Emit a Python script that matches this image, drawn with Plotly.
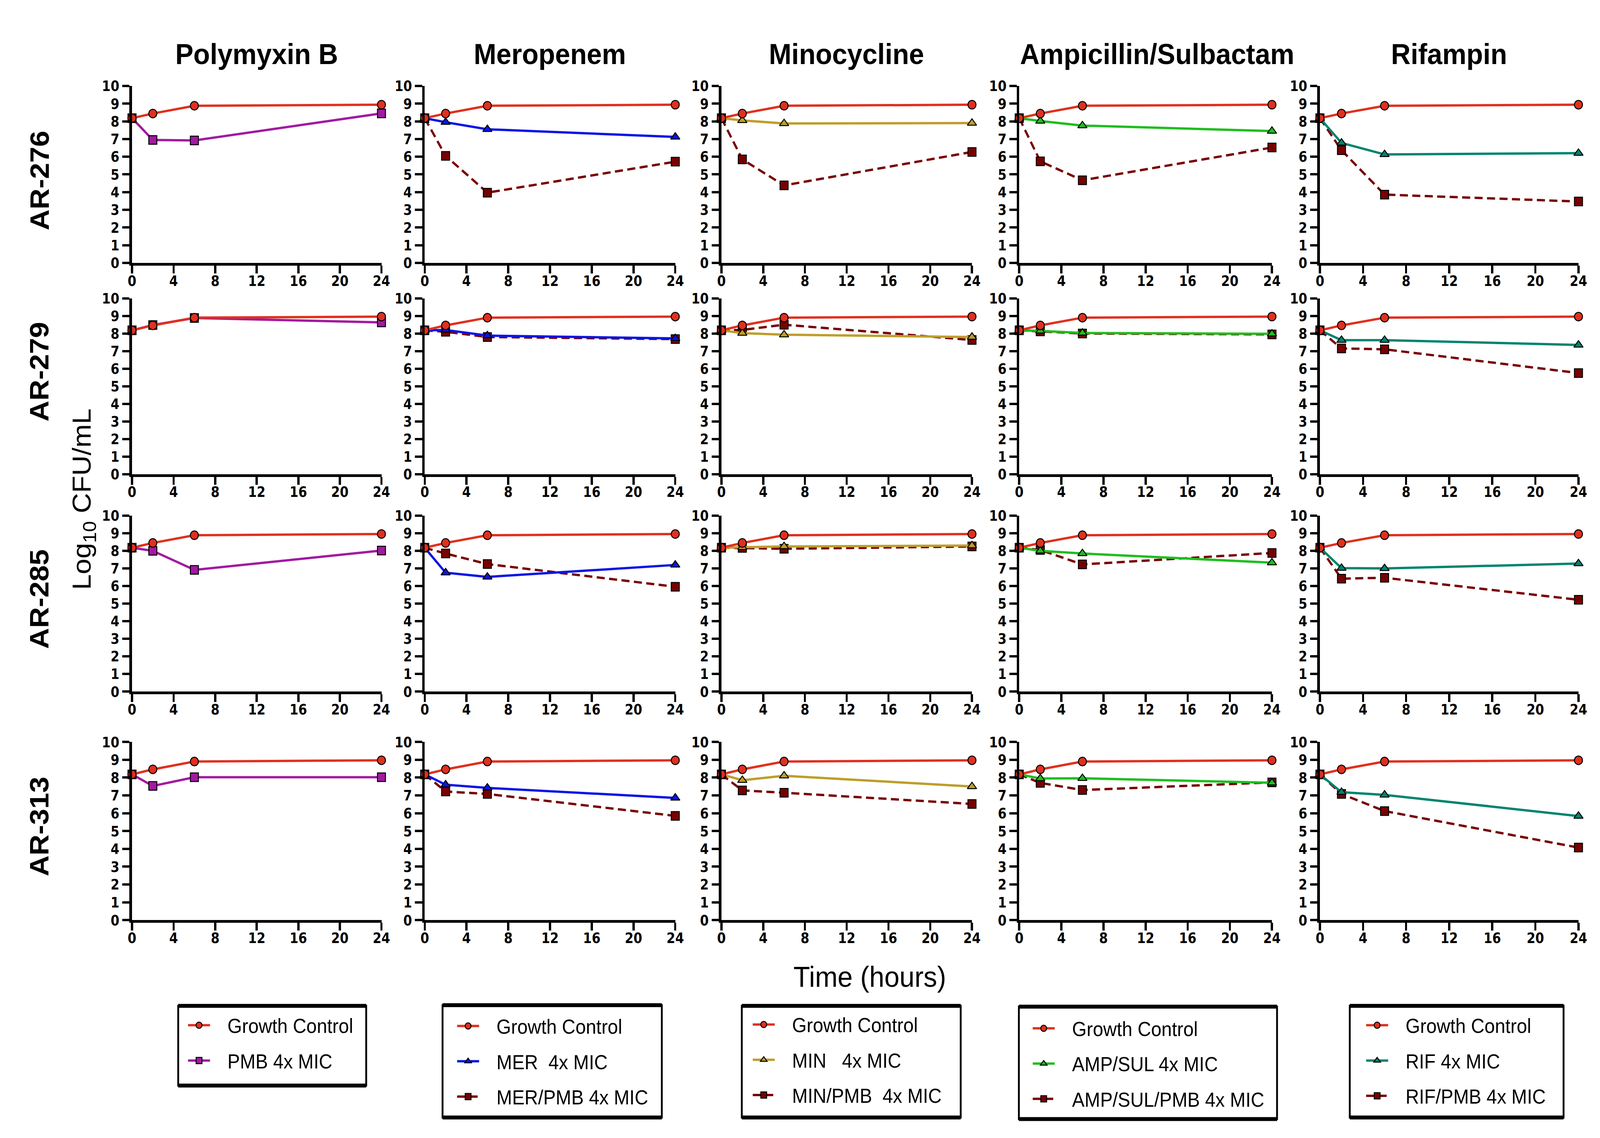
import plotly.graph_objects as go

# ---------------- data ----------------
times = [0, 2, 6, 24]
isolates = ["AR-276", "AR-279", "AR-285", "AR-313"]
drugs = ["Polymyxin B", "Meropenem", "Minocycline", "Ampicillin/Sulbactam", "Rifampin"]
x_tick_values = [0, 4, 8, 12, 16, 20, 24]
y_tick_values = [0, 1, 2, 3, 4, 5, 6, 7, 8, 9, 10]

# Growth control, one list per isolate (log10 CFU/mL at 0, 2, 6, 24 h)
gc_ar276 = [8.18, 8.44, 8.88, 8.94]
gc_ar279 = [8.18, 8.46, 8.90, 8.96]
gc_ar285 = [8.18, 8.45, 8.89, 8.96]
gc_ar313 = [8.18, 8.46, 8.90, 8.97]

# Polymyxin B alone
pmb_ar276 = [8.18, 6.95, 6.92, 8.45]
pmb_ar279 = [8.18, 8.48, 8.88, 8.63]
pmb_ar285 = [8.18, 8.00, 6.92, 8.02]
pmb_ar313 = [8.18, 7.53, 8.02, 8.02]

# Meropenem alone / with PMB
mer_ar276 = [8.18, 7.95, 7.55, 7.12]
mer_ar279 = [8.18, 8.20, 7.88, 7.72]
mer_ar285 = [8.18, 6.76, 6.52, 7.20]
mer_ar313 = [8.18, 7.60, 7.42, 6.86]
merpmb_ar276 = [8.18, 6.05, 3.97, 5.72]
merpmb_ar279 = [8.18, 8.10, 7.80, 7.68]
merpmb_ar285 = [8.18, 7.85, 7.25, 5.96]
merpmb_ar313 = [8.18, 7.22, 7.08, 5.85]

# Minocycline alone / with PMB
min_ar276 = [8.18, 8.05, 7.88, 7.90]
min_ar279 = [8.18, 8.02, 7.93, 7.80]
min_ar285 = [8.18, 8.20, 8.25, 8.30]
min_ar313 = [8.18, 7.85, 8.10, 7.50]
minpmb_ar276 = [8.18, 5.85, 4.38, 6.27]
minpmb_ar279 = [8.18, 8.20, 8.50, 7.63]
minpmb_ar285 = [8.18, 8.17, 8.12, 8.25]
minpmb_ar313 = [8.18, 7.28, 7.15, 6.52]

# Ampicillin/Sulbactam alone / with PMB
amp_ar276 = [8.18, 8.02, 7.76, 7.45]
amp_ar279 = [8.18, 8.15, 8.03, 7.98]
amp_ar285 = [8.18, 8.00, 7.85, 7.33]
amp_ar313 = [8.18, 7.95, 7.96, 7.71]
amppmb_ar276 = [8.18, 5.74, 4.67, 6.52]
amppmb_ar279 = [8.18, 8.12, 8.00, 7.95]
amppmb_ar285 = [8.18, 8.05, 7.23, 7.88]
amppmb_ar313 = [8.18, 7.70, 7.30, 7.73]

# Rifampin alone / with PMB
rif_ar276 = [8.18, 6.78, 6.13, 6.20]
rif_ar279 = [8.18, 7.62, 7.62, 7.35]
rif_ar285 = [8.18, 7.02, 7.00, 7.28]
rif_ar313 = [8.18, 7.18, 7.03, 5.84]
rifpmb_ar276 = [8.18, 6.37, 3.86, 3.47]
rifpmb_ar279 = [8.18, 7.15, 7.10, 5.75]
rifpmb_ar285 = [8.18, 6.42, 6.47, 5.22]
rifpmb_ar313 = [8.18, 7.08, 6.12, 4.07]

gc_label = "Growth Control"
single_labels = ["PMB 4x MIC", "MER\u00a0 4x MIC", "MIN\u00a0\u00a0 4x MIC", "AMP/SUL 4x MIC", "RIF 4x MIC"]
combo_labels = [None, "MER/PMB 4x MIC", "MIN/PMB\u00a0 4x MIC", "AMP/SUL/PMB 4x MIC", "RIF/PMB 4x MIC"]

growth = [gc_ar276, gc_ar279, gc_ar285, gc_ar313]
single = [
    [pmb_ar276, pmb_ar279, pmb_ar285, pmb_ar313],
    [mer_ar276, mer_ar279, mer_ar285, mer_ar313],
    [min_ar276, min_ar279, min_ar285, min_ar313],
    [amp_ar276, amp_ar279, amp_ar285, amp_ar313],
    [rif_ar276, rif_ar279, rif_ar285, rif_ar313],
]
combo = [
    None,
    [merpmb_ar276, merpmb_ar279, merpmb_ar285, merpmb_ar313],
    [minpmb_ar276, minpmb_ar279, minpmb_ar285, minpmb_ar313],
    [amppmb_ar276, amppmb_ar279, amppmb_ar285, amppmb_ar313],
    [rifpmb_ar276, rifpmb_ar279, rifpmb_ar285, rifpmb_ar313],
]

# ---------------- styles / layout ----------------
W, H = 4364, 2913

def px(xpix):
    return xpix / W

def py(ypix):
    return 1 - ypix / H

RED = "#E0301E"
COMBO = "#780000"
single_colors = ["#A11AA1", "#0A14E6", "#BE9E2A", "#1EBE1E", "#00846F"]
single_symbols = ["square", "triangle-up", "triangle-up", "triangle-up", "triangle-up"]

col_x = [(351, 1037), (1156, 1845), (1972, 2661), (2791, 3486), (3618, 4329)]
row_y = [(201, 661), (753, 1210), (1318, 1775), (1906, 2369)]
title_x = [694, 1500, 2316, 3170, 3973]
row_label_y = [447, 944, 1535, 2126]

TICKFONT = dict(family="Liberation Sans Narrow, DejaVu Sans Condensed, Arial Narrow, sans-serif",
                size=38, color="black", weight="bold")
PAD = "\u00a0\u00a0\u00a0"

fig = go.Figure()
layout = dict(
    width=W, height=H, margin=dict(l=0, r=0, t=0, b=0), autosize=False,
    paper_bgcolor="white", plot_bgcolor="white", showlegend=True,
    font=dict(family="Liberation Sans, Arial, sans-serif", color="black"),
)

for r in range(4):
    for c in range(5):
        i = r * 5 + c + 1
        xa = "x" if i == 1 else f"x{i}"
        ya = "y" if i == 1 else f"y{i}"
        xkey = "xaxis" if i == 1 else f"xaxis{i}"
        ykey = "yaxis" if i == 1 else f"yaxis{i}"
        legend_key = "legend" if c == 0 else f"legend{c + 1}"
        show = (r == 0)
        x0, x1 = col_x[c]
        yt, yb = row_y[r]
        layout[xkey] = dict(
            domain=[px(x0), px(x1)], anchor=ya, range=[0, 24],
            tickvals=x_tick_values, ticks="outside", ticklen=20, tickwidth=6, tickcolor="black",
            showline=True, linewidth=7, linecolor="black", showgrid=False, zeroline=False,
            tickfont=TICKFONT, ticklabelstandoff=-14, fixedrange=True,
        )
        layout[ykey] = dict(
            domain=[py(yb), py(yt)], anchor=xa, range=[0, 10],
            tickvals=y_tick_values, ticks="outside", ticklen=20, tickwidth=6, tickcolor="black",
            showline=True, linewidth=7, linecolor="black", showgrid=False, zeroline=False,
            tickfont=TICKFONT, fixedrange=True,
        )
        if combo[c] is not None:
            fig.add_trace(go.Scatter(
                x=times, y=combo[c][r], mode="lines+markers", name=PAD + combo_labels[c],
                line=dict(color=COMBO, width=6, dash="22px,12px"),
                marker=dict(symbol="square", size=22, color=COMBO, line=dict(color="black", width=2.5)),
                xaxis=xa, yaxis=ya, cliponaxis=False, showlegend=show,
                legend=legend_key, legendgroup=f"c{c}", legendrank=3,
            ))
        fig.add_trace(go.Scatter(
            x=times, y=single[c][r], mode="lines+markers", name=PAD + single_labels[c],
            line=dict(color=single_colors[c], width=6),
            marker=dict(symbol=single_symbols[c], size=22, color=single_colors[c],
                        line=dict(color="black", width=2.5)),
            xaxis=xa, yaxis=ya, cliponaxis=False, showlegend=show,
            legend=legend_key, legendgroup=f"s{c}", legendrank=2,
        ))
        fig.add_trace(go.Scatter(
            x=times, y=growth[r], mode="lines+markers", name=PAD + gc_label,
            line=dict(color=RED, width=6),
            marker=dict(symbol="circle", size=22, color=RED, line=dict(color="black", width=2.5)),
            xaxis=xa, yaxis=ya, cliponaxis=False, showlegend=show,
            legend=legend_key, legendgroup=f"g{c}", legendrank=1,
        ))

# legends
legend_boxes = [(478, 995, 2592, 2799), (1205, 1808, 2590, 2882), (2028, 2630, 2592, 2882),
                (2790, 3500, 2594, 2886), (3700, 4288, 2592, 2882)]
legend_sym_left = [505, 1245, 2058, 2828, 3745]
legend_first_y = [2652, 2654, 2650, 2660, 2652]
shapes = []
for c in range(5):
    key = "legend" if c == 0 else f"legend{c + 1}"
    layout[key] = dict(
        x=px(legend_sym_left[c] - 5), y=py(legend_first_y[c] - 50), xanchor="left", yanchor="top",
        bgcolor="rgba(0,0,0,0)", borderwidth=0, itemwidth=60, tracegroupgap=21,
        font=dict(family="Liberation Sans, Arial, sans-serif", size=51, color="black"),
        traceorder="grouped",
    )
    bx0, bx1, by0, by1 = legend_boxes[c]
    shapes.append(dict(type="rect", xref="paper", yref="paper", x0=px(bx0), x1=px(bx1),
                       y0=py(by1), y1=py(by0), line=dict(color="black", width=5)))
    for yy in (by0, by1):
        shapes.append(dict(type="line", xref="paper", yref="paper", x0=px(bx0), x1=px(bx1),
                           y0=py(yy), y1=py(yy), line=dict(color="black", width=10)))
layout["shapes"] = shapes

annotations = []
for c, name in enumerate(drugs):
    annotations.append(dict(text=f"<b>{name}</b>", x=px(title_x[c]), y=py(118), xref="paper", yref="paper",
                            showarrow=False, xanchor="center", yanchor="middle",
                            font=dict(family="Liberation Sans, Arial, sans-serif", size=74, color="black")))
for r, name in enumerate(isolates):
    annotations.append(dict(text=f"<b>{name}</b>", x=px(96), y=py(row_label_y[r]), xref="paper", yref="paper",
                            showarrow=False, textangle=-90, xanchor="center", yanchor="middle",
                            font=dict(family="Liberation Sans, Arial, sans-serif", size=74, color="black")))
annotations.append(dict(text="Log<sub>10</sub> CFU/mL", x=px(218), y=py(1275), xref="paper", yref="paper",
                        showarrow=False, textangle=-90, xanchor="center", yanchor="middle",
                        font=dict(family="Liberation Sans, Arial, sans-serif", size=72, color="black")))
annotations.append(dict(text="Time (hours)", x=px(2380), y=py(2517), xref="paper", yref="paper",
                        showarrow=False, xanchor="center", yanchor="middle",
                        font=dict(family="Liberation Sans, Arial, sans-serif", size=74, color="black")))
layout["annotations"] = annotations

fig.update_layout(**layout)

# fit the fixed-size figure exactly into the browser viewport
fit_script = """
var gd = document.getElementById('{plot_id}');
document.documentElement.style.margin = '0';
document.documentElement.style.overflow = 'hidden';
document.body.style.margin = '0';
document.body.style.overflow = 'hidden';
var sx = window.innerWidth / %d, sy = window.innerHeight / %d;
gd.style.transformOrigin = '0 0';
gd.style.transform = 'scale(' + sx + ',' + sy + ')';
""" % (W, H)

fig.write_html("out.html", post_script=fit_script, config={"displayModeBar": False})
